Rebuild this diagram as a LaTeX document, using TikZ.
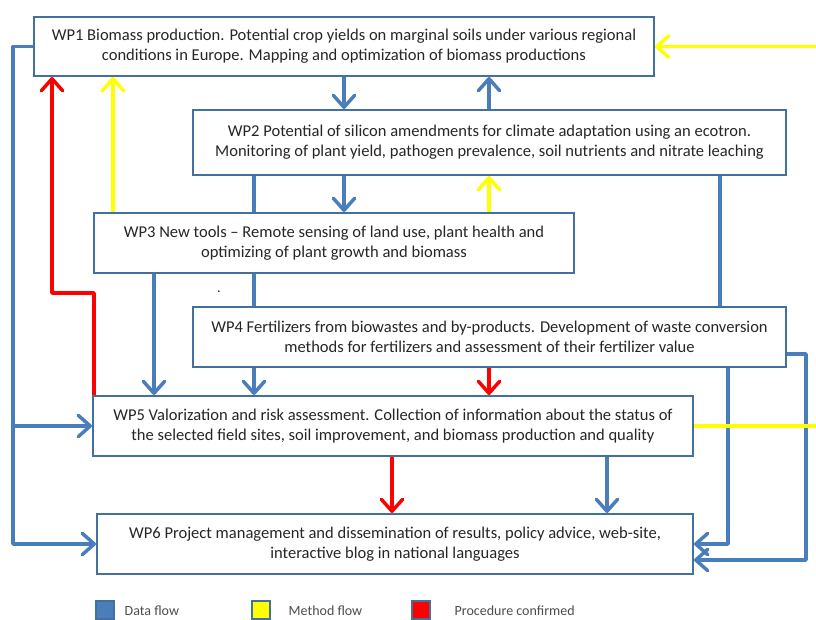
\documentclass[tikz,border=0pt]{standalone}
\usepackage{fontspec}
\setmainfont{Carlito}
\usetikzlibrary{arrows.meta}
\definecolor{boxblue}{HTML}{41719C}
\definecolor{flowblue}{HTML}{4A7EBB}
\definecolor{flowyellow}{HTML}{FFFF00}
\definecolor{flowred}{HTML}{FF0000}
\begin{document}
\begin{tikzpicture}[x=0.75pt,y=-0.75pt,
        wp/.style={draw=boxblue,line width=1.5pt,fill=white,align=center,
            font=\fontsize{12.4}{15}\selectfont,text=black!85,inner sep=0pt},
        flow/.style={line width=2.6pt,line join=round,
            -{Straight Barb[length=9pt,width=16pt,round,line width=2.6pt]}},
        data/.style={flow,flowblue},
        method/.style={flow,flowyellow},
        proc/.style={flow,flowred},
        key/.style={draw=boxblue,line width=1pt,minimum size=13.5pt,inner sep=0pt},
        keytext/.style={font=\fontsize{10.5}{12}\selectfont,anchor=west,text=black!70}]
    \useasboundingbox (0,0) rectangle (816,619);

    % work packages
    \node[wp,minimum width=465pt,minimum height=44.25pt] (wp1) at (344,46.5)
        {WP1 Biomass production. Potential crop yields on marginal soils under various regional\\
         conditions in Europe. Mapping and optimization of biomass productions};
    \node[wp,minimum width=444.75pt,minimum height=48.75pt] (wp2) at (489.5,142.5)
        {WP2 Potential of silicon amendments for climate adaptation using an ecotron.\\
         Monitoring of plant yield, pathogen prevalence, soil nutrients and nitrate leaching};
    \node[wp,minimum width=360pt,minimum height=45pt] (wp3) at (334,243)
        {WP3 New tools -- Remote sensing of land use, plant health and\\
         optimizing of plant growth and biomass};
    \node[wp,minimum width=444.75pt,minimum height=45pt] (wp4) at (489.5,337)
        {WP4 Fertilizers from biowastes and by-products. Development of waste conversion\\
         methods for fertilizers and assessment of their fertilizer value};
    \node[wp,minimum width=450pt,minimum height=45pt] (wp5) at (393,426)
        {WP5 Valorization and risk assessment. Collection of information about the status of\\
         the selected field sites, soil improvement, and biomass production and quality};
    \node[wp,minimum width=447pt,minimum height=45pt] (wp6) at (395,544)
        {WP6 Project management and dissemination of results, policy advice, web-site,\\
         interactive blog in national languages};
    \node[font=\fontsize{10.5}{15}\selectfont,text=black!85,inner sep=0pt] (dot) at (219,292) {.};

    % lanes
    \coordinate (busL) at (13,0);
    \coordinate (confirmL) at (52,293);
    \coordinate (methL) at (113,0);
    \coordinate (toWPfive) at (154,0);
    \coordinate (midL) at (254,0);
    \coordinate (midC) at (344,0);
    \coordinate (redC) at (392,0);
    \coordinate (midR) at (489,0);
    \coordinate (dataR) at (607,0);
    \coordinate (wptwoR) at (720,0);
    \coordinate (wpfourR) at (728,0);
    \coordinate (busR) at (806,354);
    \coordinate (yelTop) at (816,46.5);
    \coordinate (yelMid) at (816,426);

    % data flow
    \draw[data] (wp1.west) -- (wp1.west -| busL) |- (wp6.west);
    \draw[data] (wp5.west -| busL) -- (wp5.west);
    \draw[data] (midC |- wp1.south) -- (midC |- wp2.north);
    \draw[data] (midR |- wp2.north) -- (midR |- wp1.south);
    \draw[data] (midC |- wp2.south) -- (midC |- wp3.north);
    \draw[data,-] (midL |- wp2.south) -- (midL |- wp3.north);
    \draw[data,-] (midL |- wp3.south) -- (midL |- wp4.north);
    \draw[data] (toWPfive |- wp3.south) -- (toWPfive |- wp5.north);
    \draw[data] (midL |- wp4.south) -- (midL |- wp5.north);
    \draw[data,-] (wptwoR |- wp2.south) -- (wptwoR |- wp4.north);
    \draw[data] (busR -| wp4.east) -- (busR) |- ([yshift=-12pt]wp6.east);
    \draw[data] (wpfourR |- wp4.south) |- (wp6.east);
    \draw[data] (dataR |- wp5.south) -- (dataR |- wp6.north);

    % method flow
    \draw[method] (methL |- wp3.north) -- (methL |- wp1.south);
    \draw[method] (midR |- wp3.north) -- (midR |- wp2.south);
    \draw[method] (yelTop) -- (wp1.east);
    \draw[method,-] (yelMid) -- (wp5.east);

    % procedure confirmed
    \draw[proc] ([xshift=1.5pt]wp5.north west) |- (confirmL) -- (confirmL |- wp1.south);
    \draw[proc] (midR |- wp4.south) -- (midR |- wp5.north);
    \draw[proc] (redC |- wp5.south) -- (redC |- wp6.north);

    % legend
    \node[key,fill=flowblue] (kdata) at (105,610) {};
    \node[keytext] (tdata) at (120,611) {Data flow};
    \node[key,fill=flowyellow] (kmeth) at (261,610) {};
    \node[keytext] (tmeth) at (284,611) {Method flow};
    \node[key,fill=flowred] (kproc) at (421,610) {};
    \node[keytext] (tproc) at (450,611) {Procedure confirmed};
\end{tikzpicture}
\end{document}
